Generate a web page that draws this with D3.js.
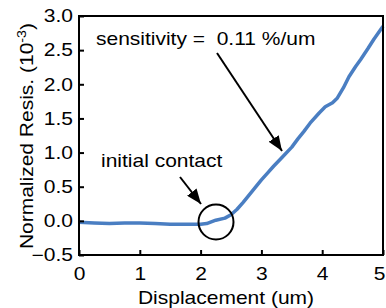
<!DOCTYPE html>
<html><head><meta charset="utf-8">
<script src="https://cdn.jsdelivr.net/npm/d3@7"></script>
<style>body{margin:0;background:#fff}svg{display:block;font-family:"Liberation Sans",Arial,sans-serif}text{white-space:pre}</style>
</head><body>
<svg id="c" width="386" height="308"></svg>
<script>
const displacement = [0,0.25,0.5,0.75,1.0,1.25,1.5,1.75,2.0,2.1,2.25,2.4,2.5,2.6,2.7,2.8,2.9,3.0,3.1,3.2,3.35,3.5,3.6,3.7,3.8,3.95,4.05,4.17,4.25,4.35,4.44,4.55,4.63,4.75,4.85,5.0];
const resistance = [-0.02,-0.03,-0.04,-0.03,-0.03,-0.04,-0.05,-0.05,-0.05,-0.04,0.01,0.04,0.09,0.17,0.27,0.38,0.49,0.60,0.70,0.80,0.94,1.08,1.20,1.31,1.43,1.58,1.67,1.73,1.80,1.95,2.11,2.26,2.36,2.52,2.66,2.85];
const xTicks = [0,1,2,3,4,5];
const yTicks = [-0.5,0.0,0.5,1.0,1.5,2.0,2.5,3.0];

const FS = 17.5, SX = 1.2;
const svg = d3.select("#c");
const m = {l:79, r:383, t:16, b:255};
const x = d3.scaleLinear().domain([0,5]).range([m.l,m.r]);
const y = d3.scaleLinear().domain([-0.5,3.0]).range([m.b,m.t]);

svg.append("defs").append("marker").attr("id","ah").attr("viewBox","0 0 10 10")
  .attr("refX",10).attr("refY",5).attr("markerWidth",15).attr("markerHeight",12)
  .attr("markerUnits","userSpaceOnUse").attr("orient","auto").attr("preserveAspectRatio","none")
  .append("path").attr("d","M0,0 L10,5 L0,10 Z").attr("fill","#000");

// line
svg.append("path").datum(displacement.map((d,i)=>[d,resistance[i]]))
  .attr("fill","none").attr("stroke","#4a7ec2").attr("stroke-width",3.5)
  .attr("stroke-linejoin","round")
  .attr("d", d3.line().x(d=>x(d[0])).y(d=>y(d[1])));

// axes with inward ticks
const xa = svg.append("g").attr("transform",`translate(0,${m.b})`)
  .call(d3.axisTop(x).tickValues(xTicks).tickSize(5).tickFormat(d3.format("d")));
xa.select(".domain").remove();
xa.selectAll("text").attr("x",0).attr("y",0).attr("dy",null)
  .attr("transform",`translate(0,24.5) scale(${SX},1)`).style("text-anchor","middle");
xa.selectAll(".tick").filter(d=>d===5).select("text")
  .attr("transform",`translate(2,24.5) scale(${SX},1)`).style("text-anchor","end");
const ya = svg.append("g").attr("transform",`translate(${m.l},0)`)
  .call(d3.axisRight(y).tickValues(yTicks).tickSize(5).tickFormat(d3.format(".1f")));
ya.select(".domain").remove();
ya.selectAll("text").attr("x",0).attr("y",0).attr("dy",null)
  .attr("transform",`translate(-6,5.8) scale(${SX},1)`).style("text-anchor","end");
svg.selectAll(".tick line").attr("stroke","#000").attr("stroke-width",2);
svg.selectAll(".tick text").attr("font-size",FS).attr("fill","#000").attr("font-family","Liberation Sans, Arial, sans-serif");

// frame
svg.append("rect").attr("x",m.l).attr("y",m.t).attr("width",m.r-m.l).attr("height",m.b-m.t)
  .attr("fill","none").attr("stroke","#000").attr("stroke-width",2);

function label(tx, str, anchor){
  return svg.append("text").attr("transform",tx).attr("text-anchor",anchor||"start")
    .attr("font-size",FS).attr("fill","#000").text(str);
}
// axis labels
label(`translate(226,304) scale(${SX},1)`, "Displacement (um)", "middle");
const yl = svg.append("text").attr("transform",`translate(33,136) rotate(-90) scale(${SX},1)`)
  .attr("text-anchor","middle").attr("font-size",FS);
yl.append("tspan").text("Normalized Resis. (10");
yl.append("tspan").attr("dy",-7).attr("font-size",12).text("-3");
yl.append("tspan").attr("dy",7).text(")");

// annotations
label(`translate(96,44.5) scale(${SX},1)`, "sensitivity =  0.11 %/um");
svg.append("line").attr("x1",217).attr("y1",53).attr("x2",282).attr("y2",151)
  .attr("stroke","#000").attr("stroke-width",2).attr("marker-end","url(#ah)");
label(`translate(101,167) scale(${SX},1)`, "initial contact");
svg.append("line").attr("x1",180).attr("y1",177).attr("x2",201).attr("y2",204)
  .attr("stroke","#000").attr("stroke-width",2).attr("marker-end","url(#ah)");
svg.append("circle").attr("cx",216).attr("cy",222).attr("r",17.5)
  .attr("fill","none").attr("stroke","#000").attr("stroke-width",2);
</script>
</body></html>
